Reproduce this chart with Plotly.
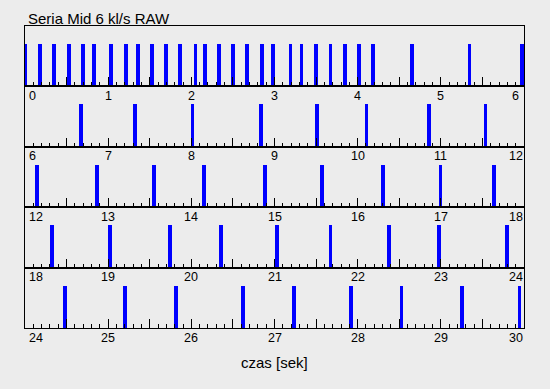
import plotly.graph_objects as go
from plotly.subplots import make_subplots

title_text = "Seria Mid 6 kl/s RAW"
x_title = "czas [sek]"
row_starts = [0, 6, 12, 18, 24]

spikes_row1 = [0.005, 0.176, 0.345, 0.525, 0.693, 0.829, 1.030, 1.210, 1.354, 1.523,
               1.691, 1.863, 2.051, 2.167, 2.332, 2.504, 2.672, 2.852, 2.980, 3.193,
               3.325, 3.494, 3.674, 3.843, 4.014, 4.183, 4.651, 5.345, 5.980]
spikes_row2 = [6.669, 7.322, 8.015, 8.833, 9.506, 10.107, 10.856, 11.537]
spikes_row3 = [12.140, 12.861, 13.550, 14.148, 14.885, 15.570, 16.303, 16.996, 17.637]
spikes_row4 = [18.320, 19.022, 19.743, 20.352, 21.030, 21.674, 22.375, 22.976, 23.793]
spikes_row5 = [24.485, 25.206, 25.811, 26.624, 27.233, 27.915, 28.527, 29.252, 29.946]
spike_rows = [spikes_row1, spikes_row2, spikes_row3, spikes_row4, spikes_row5]
spike_height = 1.0

BG = "#ececec"
FONT = "Liberation Sans, Arial, Helvetica, sans-serif"

fig = make_subplots(rows=5, cols=1, vertical_spacing=0)

annotations = []
for i, (start, times) in enumerate(zip(row_starts, spike_rows), start=1):
    fig.add_trace(go.Bar(x=times, y=[spike_height] * len(times), width=0.046,
                         marker=dict(color="#0000ff", line=dict(width=0)),
                         showlegend=False, hoverinfo="skip"), row=i, col=1)
    fig.update_xaxes(range=[start, start + 6], tickmode="linear", tick0=0, dtick=0.5,
                     ticks="inside", ticklen=9, tickcolor="black", tickwidth=1,
                     minor=dict(dtick=0.1, tick0=0, ticks="inside", ticklen=4,
                                tickcolor="black", tickwidth=1, showgrid=False),
                     showticklabels=False, showgrid=False, zeroline=False,
                     showline=True, linecolor="black", linewidth=1, mirror=True,
                     row=i, col=1)
    fig.update_yaxes(range=[0, 1.44], showticklabels=False, ticks="", showgrid=False,
                     zeroline=False, showline=True, linecolor="black", linewidth=1,
                     mirror=True, row=i, col=1)
    xref = "x" if i == 1 else f"x{i}"
    yref = "y domain" if i == 1 else f"y{i} domain"
    for k in range(7):
        v = start + k
        if k == 0:
            xanchor, xshift = "left", 2
        elif k == 6:
            xanchor, xshift = "center", -8.5
        else:
            xanchor, xshift = "center", 0
        annotations.append(dict(x=v, y=0, xref=xref, yref=yref, text=str(v),
                                showarrow=False, xanchor=xanchor, yanchor="middle",
                                xshift=xshift, yshift=-9.5,
                                font=dict(family=FONT, size=12.5, color="black")))

annotations.append(dict(x=0.002, y=1.024, xref="paper", yref="paper", text=title_text,
                        showarrow=False, xanchor="left", yanchor="middle",
                        font=dict(family=FONT, size=15, color="black")))
annotations.append(dict(x=0.5, y=-0.113, xref="paper", yref="paper", text=x_title,
                        showarrow=False, xanchor="center", yanchor="middle",
                        font=dict(family=FONT, size=15, color="black")))

fig.update_layout(width=550, height=389, margin=dict(l=25, r=26, t=26, b=61),
                  paper_bgcolor=BG, plot_bgcolor=BG, bargap=0,
                  annotations=annotations, showlegend=False)

fig.write_html("out.html", config={"displayModeBar": False},
               post_script="document.body.style.margin='0';"
                           "document.body.style.background='#ececec';"
                           "document.body.style.overflow='hidden';")
